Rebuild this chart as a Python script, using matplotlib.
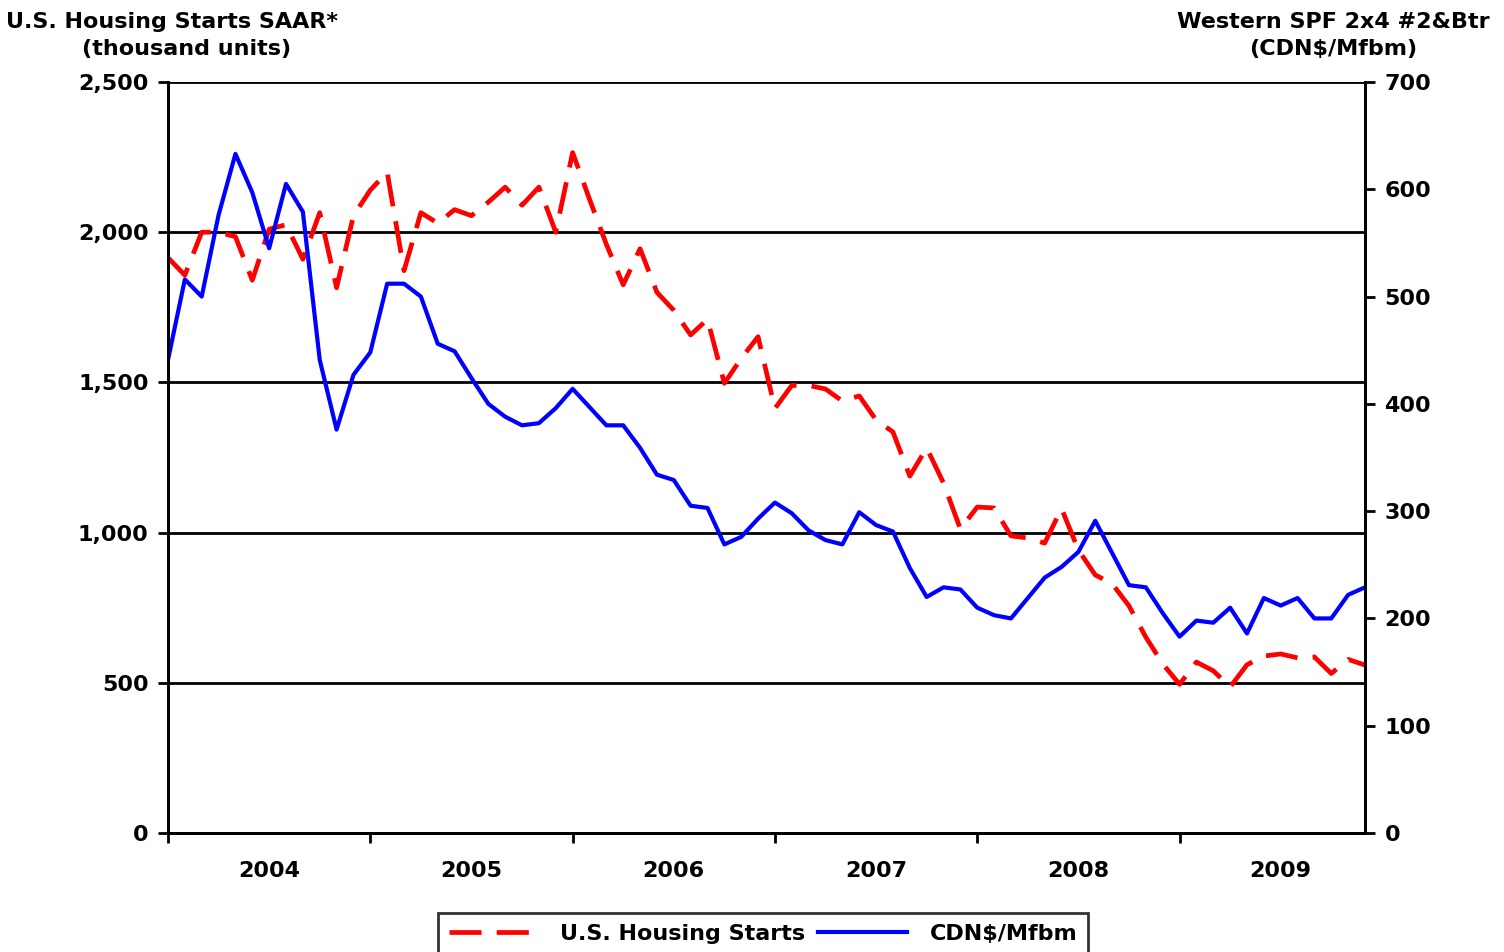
import numpy as np
from matplotlib import pyplot as plt

# monthly, Jan 2004 .. Dec 2009
years = ["2004", "2005", "2006", "2007", "2008", "2009"]

starts = [1915, 1857, 2000, 2000, 1985, 1840, 2010, 2025, 1910, 2065, 1815, 2055,
          2140, 2200, 1872, 2065, 2030, 2075, 2055, 2100, 2150, 2090, 2150, 2000,
          2265, 2110, 1960, 1825, 1945, 1800, 1740, 1658, 1710, 1497, 1580, 1652,
          1413, 1490, 1490, 1478, 1438, 1455, 1375, 1335, 1188, 1282, 1165, 1012,
          1085, 1082, 989, 982, 965, 1080, 942, 859, 830, 756, 652, 563,
          495, 569, 540, 486, 560, 589, 596, 583, 586, 531, 578, 559]

spf = [441, 516, 500, 576, 633, 597, 545, 605, 579, 441, 376, 427,
       448, 512, 512, 500, 456, 449, 424, 400, 388, 380, 382, 396,
       414, 397, 380, 380, 359, 334, 329, 305, 303, 269, 276, 293,
       308, 298, 282, 273, 269, 299, 287, 281, 247, 220, 229, 227,
       210, 203, 200, 219, 238, 248, 262, 291, 261, 231, 229, 205,
       183, 198, 196, 210, 186, 219, 212, 219, 200, 200, 222, 229]

left_ticks = [0, 500, 1000, 1500, 2000, 2500]
right_ticks = [0, 100, 200, 300, 400, 500, 600, 700]

plt.rcParams["font.family"] = "DejaVu Sans"
plt.rcParams["font.weight"] = "bold"
fs = 16

fig = plt.figure(figsize=(15.04, 9.52), dpi=100)
ax = fig.add_axes([168/1504, 1-833/952, (1365-168)/1504, (833-82)/952])
ax2 = ax.twinx()

x = np.arange(len(starts))

l1, = ax.plot(x, starts, color="#FF0000", lw=3.4, dashes=(6.8, 3.2),
              solid_capstyle="butt", dash_capstyle="butt", label="U.S. Housing Starts")
l2, = ax2.plot(x, spf, color="#0000FF", lw=3, label="CDN$/Mfbm")

ax.set_xlim(0, len(starts) - 1)
ax.set_ylim(0, 2500)
ax2.set_ylim(0, 700)

ax.set_yticks(left_ticks)
ax.set_yticklabels([f"{v:,}" for v in left_ticks])
ax2.set_yticks(right_ticks)
ax2.set_yticklabels([str(v) for v in right_ticks])

for v in left_ticks[1:]:
    ax.axhline(v, color="black", lw=2, zorder=0)

ax.set_xticks(np.arange(0, len(starts), 12))
ax.set_xticklabels([])
ax.set_xticks(np.arange(6, len(starts), 12), minor=True)
ax.set_xticklabels(years, minor=True)

ax.tick_params(axis="x", which="major", direction="out", length=7, width=2)
ax.tick_params(axis="x", which="minor", length=0, pad=20, labelsize=fs)
ax.tick_params(axis="y", direction="out", length=7, width=2, pad=7, labelsize=fs)
ax2.tick_params(axis="y", direction="out", length=7, width=2, pad=7, labelsize=fs)

for a in (ax, ax2):
    for s in a.spines.values():
        s.set_linewidth(2)
    a.spines["top"].set_visible(False)

tfs = 16
fig.text(172/1504, 1-28/952, "U.S. Housing Starts SAAR*", ha="center", va="baseline",
         fontsize=tfs, fontweight="bold")
fig.text(187/1504, 1-55/952, "(thousand units)", ha="center", va="baseline",
         fontsize=tfs, fontweight="bold")
fig.text(1333/1504, 1-28/952, "Western SPF 2x4 #2&Btr", ha="center", va="baseline",
         fontsize=tfs, fontweight="bold")
fig.text(1333/1504, 1-55/952, r"(CDN\$/Mfbm)", ha="center", va="baseline",
         fontsize=tfs, fontweight="bold")

leg = fig.legend(handles=[l1, l2], loc="upper center", bbox_to_anchor=(763/1504, 1-902/952),
                 ncol=2, fontsize=fs, frameon=True, fancybox=False, handlelength=4.0,
                 handletextpad=1.0, columnspacing=0.6, borderpad=0.5)
leg.get_frame().set_edgecolor("black")
leg.get_frame().set_linewidth(2)
for t in leg.get_texts():
    t.set_fontweight("bold")

fig.savefig("out.png", dpi=100)
